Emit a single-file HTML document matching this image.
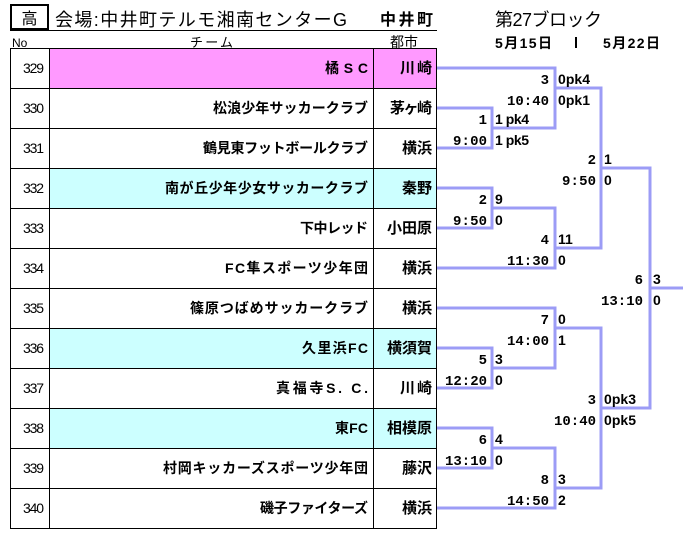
<!DOCTYPE html>
<html><head><meta charset="utf-8">
<style>
html,body{margin:0;padding:0;background:#fff;}
svg{display:block;}
.jp{font-family:"Liberation Sans","Noto Sans CJK JP",sans-serif;}
.b{font-weight:bold;}
.mono{font-family:"Liberation Mono","Noto Sans CJK JP",monospace;font-weight:bold;font-size:14px;}
.rs{font-family:"Liberation Sans","Noto Sans CJK JP",sans-serif;font-weight:bold;font-size:14px;}
</style></head>
<body>
<svg width="693" height="552" viewBox="0 0 693 552" xmlns="http://www.w3.org/2000/svg">
<rect x="0" y="0" width="693" height="552" fill="#fff"/>
<!-- header -->
<line x1="10" y1="30.5" x2="437" y2="30.5" stroke="#000" stroke-width="1"/>
<rect x="11" y="5" width="37" height="24" fill="#fff" stroke="#000" stroke-width="2"/>
<text class="jp" x="29.5" y="24" font-size="16" text-anchor="middle">高</text>
<text class="jp" x="55" y="26" font-size="18" textLength="292">会場:中井町テルモ湘南センターG</text>
<text class="jp b" x="380" y="25" font-size="16" textLength="53">中井町</text>
<text class="jp" x="495" y="26" font-size="18" textLength="107">第27ブロック</text>
<text class="jp b" x="495" y="48" font-size="14" textLength="57">5月15日</text>
<rect x="575" y="37" width="2" height="11" fill="#000"/>
<text class="jp b" x="603" y="48" font-size="14" textLength="57">5月22日</text>
<text class="jp" x="12" y="47" font-size="12">No</text>
<text class="jp" x="190" y="47" font-size="13" textLength="43">チーム</text>
<text class="jp" x="390" y="47" font-size="14">都市</text>

<!-- row backgrounds -->
<rect x="49" y="48.5" width="388" height="40" fill="#ff99ff"/>
<rect x="49" y="168.5" width="388" height="40" fill="#ccffff"/>
<rect x="49" y="328.5" width="388" height="40" fill="#ccffff"/>
<rect x="49" y="408.5" width="388" height="40" fill="#ccffff"/>

<!-- table grid -->
<g stroke="#000" stroke-width="1" fill="none">
<rect x="10.5" y="48.5" width="426" height="480"/>
<line x1="49.5" y1="48.5" x2="49.5" y2="528.5"/>
<line x1="373.5" y1="48.5" x2="373.5" y2="528.5"/>
<line x1="10.5" y1="88.5" x2="436.5" y2="88.5"/>
<line x1="10.5" y1="128.5" x2="436.5" y2="128.5"/>
<line x1="10.5" y1="168.5" x2="436.5" y2="168.5"/>
<line x1="10.5" y1="208.5" x2="436.5" y2="208.5"/>
<line x1="10.5" y1="248.5" x2="436.5" y2="248.5"/>
<line x1="10.5" y1="288.5" x2="436.5" y2="288.5"/>
<line x1="10.5" y1="328.5" x2="436.5" y2="328.5"/>
<line x1="10.5" y1="368.5" x2="436.5" y2="368.5"/>
<line x1="10.5" y1="408.5" x2="436.5" y2="408.5"/>
<line x1="10.5" y1="448.5" x2="436.5" y2="448.5"/>
<line x1="10.5" y1="488.5" x2="436.5" y2="488.5"/>
</g>

<!-- numbers -->
<g class="jp" font-size="14">
<text x="23" y="73" textLength="21">329</text>
<text x="23" y="113" textLength="21">330</text>
<text x="23" y="153" textLength="21">331</text>
<text x="23" y="193" textLength="21">332</text>
<text x="23" y="233" textLength="21">333</text>
<text x="23" y="273" textLength="21">334</text>
<text x="23" y="313" textLength="21">335</text>
<text x="23" y="353" textLength="21">336</text>
<text x="23" y="393" textLength="21">337</text>
<text x="23" y="433" textLength="21">338</text>
<text x="23" y="473" textLength="21">339</text>
<text x="23" y="513" textLength="21">340</text>
</g>

<!-- teams -->
<g class="jp b" font-size="14">
<text x="325" y="73" textLength="43">橘SC</text>
<text x="213" y="113" textLength="155">松浪少年サッカークラブ</text>
<text x="203" y="153" textLength="165">鶴見東フットボールクラブ</text>
<text x="165" y="193" textLength="203">南が丘少年少女サッカークラブ</text>
<text x="300" y="233" textLength="68">下中レッド</text>
<text x="225" y="273" textLength="143">FC隼スポーツ少年団</text>
<text x="190" y="313" textLength="178">篠原つばめサッカークラブ</text>
<text x="302" y="353" textLength="66">久里浜FC</text>
<text x="276" y="393" textLength="92">真福寺S. C.</text>
<text x="335" y="433" textLength="33">東FC</text>
<text x="163" y="473" textLength="205">村岡キッカーズスポーツ少年団</text>
<text x="260" y="513" textLength="108">磯子ファイターズ</text>
</g>

<!-- cities -->
<g class="jp b" font-size="15">
<text x="400" y="73" textLength="32">川崎</text>
<text x="390" y="113" textLength="42">茅ヶ崎</text>
<text x="402" y="153" textLength="30">横浜</text>
<text x="402" y="193" textLength="30">秦野</text>
<text x="387" y="233" textLength="45">小田原</text>
<text x="402" y="273" textLength="30">横浜</text>
<text x="402" y="313" textLength="30">横浜</text>
<text x="387" y="353" textLength="45">横須賀</text>
<text x="400" y="393" textLength="32">川崎</text>
<text x="387" y="433" textLength="45">相模原</text>
<text x="402" y="473" textLength="30">藤沢</text>
<text x="402" y="513" textLength="30">横浜</text>
</g>

<!-- bracket -->
<g stroke="#9c9cf6" stroke-width="3" fill="none" stroke-linejoin="miter" stroke-linecap="butt">
<path d="M437,68 H555 V128 H492"/>
<path d="M437,108 H492 V148 H437"/>
<path d="M555,88 H601 V248 H555"/>
<path d="M437,188 H492 V228 H437"/>
<path d="M492,208 H555 V268 H437"/>
<path d="M601,168 H650 V408 H601"/>
<path d="M650,288 H683"/>
<path d="M437,308 H555 V368 H492"/>
<path d="M437,348 H492 V388 H437"/>
<path d="M555,328 H601 V488 H555"/>
<path d="M437,428 H492 V468 H437"/>
<path d="M492,448 H555 V508 H437"/>
</g>

<!-- left labels (match no / time) -->
<g class="mono" text-anchor="end">
<text x="487" y="124">1</text>
<text x="487" y="145" textLength="34">9:00</text>
<text x="549" y="84">3</text>
<text x="549" y="105" textLength="42">10:40</text>
<text x="596" y="164">2</text>
<text x="596" y="185" textLength="34">9:50</text>
<text x="487" y="204">2</text>
<text x="487" y="225" textLength="34">9:50</text>
<text x="549" y="244">4</text>
<text x="549" y="265" textLength="42">11:30</text>
<text x="643" y="284">6</text>
<text x="643" y="305" textLength="42">13:10</text>
<text x="549" y="324">7</text>
<text x="549" y="345" textLength="42">14:00</text>
<text x="487" y="364">5</text>
<text x="487" y="385" textLength="42">12:20</text>
<text x="596" y="404">3</text>
<text x="596" y="425" textLength="42">10:40</text>
<text x="487" y="444">6</text>
<text x="487" y="465" textLength="42">13:10</text>
<text x="549" y="484">8</text>
<text x="549" y="505" textLength="42">14:50</text>
</g>

<!-- right labels (scores) -->
<g class="rs">
<text x="495" y="124" textLength="34">1 pk4</text>
<text x="495" y="145" textLength="34">1 pk5</text>
<text x="558" y="84" textLength="32">0pk4</text>
<text x="558" y="105" textLength="32">0pk1</text>
<text x="604" y="164">1</text>
<text x="604" y="185">0</text>
<text x="495" y="204">9</text>
<text x="495" y="225">0</text>
<text x="558" y="244">11</text>
<text x="558" y="265">0</text>
<text x="653" y="284">3</text>
<text x="653" y="305">0</text>
<text x="558" y="324">0</text>
<text x="558" y="345">1</text>
<text x="495" y="364">3</text>
<text x="495" y="385">0</text>
<text x="604" y="404" textLength="32">0pk3</text>
<text x="604" y="425" textLength="32">0pk5</text>
<text x="495" y="444">4</text>
<text x="495" y="465">0</text>
<text x="558" y="484">3</text>
<text x="558" y="505">2</text>
</g>
</svg>
</body></html>
